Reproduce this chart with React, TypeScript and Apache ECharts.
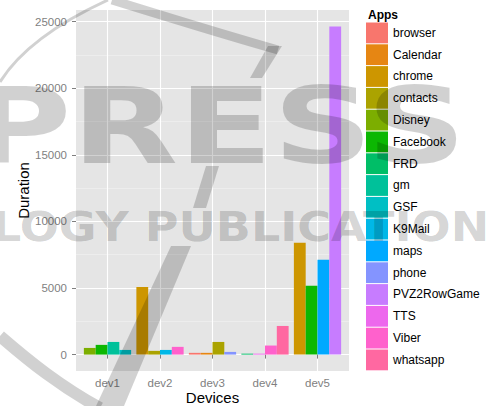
import React, { useEffect, useRef } from 'react';
import * as echarts from 'echarts';

const devices = ['dev1', 'dev2', 'dev3', 'dev4', 'dev5'];
const apps = ['browser', 'Calendar', 'chrome', 'contacts', 'Disney', 'Facebook', 'FRD', 'gm', 'GSF', 'K9Mail', 'maps', 'phone', 'PVZ2RowGame', 'TTS', 'Viber', 'whatsapp'];
const appColors = ['#F8766D', '#E68613', '#CD9600', '#ABA300', '#7CAE00', '#0CB702', '#00BE67', '#00C19A', '#00BFC4', '#00B8E7', '#00A9FF', '#8494FF', '#C77CFF', '#ED68ED', '#FF61CC', '#FF68A1'];

// durations per app, one value per device (null = app not used on that device)
const browser = [null, null, 130, null, null];
const calendar = [null, null, 130, null, null];
const chrome = [null, 5080, null, null, 8400];
const contacts = [null, 280, 950, null, null];
const disney = [500, null, null, null, null];
const facebook = [730, null, null, null, 5180];
const frd = [null, null, null, 70, null];
const gm = [950, null, null, null, null];
const gsf = [350, null, null, null, null];
const k9mail = [null, 350, null, null, null];
const maps = [null, null, null, null, 7130];
const phone = [null, null, 200, null, null];
const pvz2RowGame = [null, null, null, null, 24650];
const tts = [null, null, null, 70, null];
const viber = [null, 580, null, 680, null];
const whatsapp = [null, null, null, 2150, null];

const durations: (number | null)[][] = [browser, calendar, chrome, contacts, disney, facebook, frd, gm, gsf, k9mail, maps, phone, pvz2RowGame, tts, viber, whatsapp];

const yTicks = [0, 5000, 10000, 15000, 20000, 25000];
const yMinorTicks = [2500, 7500, 12500, 17500, 22500];
const xTicks = [1, 2, 3, 4, 5];

const FONT = '"Liberation Sans", Arial, sans-serif';
const WM = 'rgba(0,0,0,0.18)';

export default function App() {
  const ref = useRef<HTMLDivElement>(null);
  useEffect(() => {
    if (!ref.current) return;
    const chart = echarts.init(ref.current, undefined, { renderer: 'svg' });

    let maxV = 0;
    durations.forEach((arr) => arr.forEach((v) => { if (v != null && v > maxV) maxV = v; }));
    const yMin = -0.05 * maxV;
    const yMax = 1.05 * maxV;

    const renderItem = (params: any, api: any) => {
      const x = api.value(0) as number;
      const v = api.value(1) as number;
      const slot = api.value(2) as number;
      const n = api.value(3) as number;
      const base = api.coord([x, 0]);
      const top = api.coord([x, v]);
      const unit = api.size([1, 0])[0];
      const groupW = unit * 0.9;
      const w = groupW / n;
      const left = base[0] - groupW / 2 + slot * w;
      return {
        type: 'rect',
        shape: { x: left, y: top[1], width: w, height: base[1] - top[1] },
        style: { fill: api.visual('color') },
      };
    };

    const series = apps.map((app, i) => {
      const data: number[][] = [];
      durations[i].forEach((v, d) => {
        if (v == null) return;
        const present = apps.map((_, k) => k).filter((k) => durations[k][d] != null);
        data.push([d + 1, v, present.indexOf(i), present.length]);
      });
      return {
        type: 'custom',
        name: app,
        itemStyle: { color: appColors[i] },
        data,
        renderItem,
        encode: { x: 0, y: 1 },
        z: 2,
      };
    });

    const option: any = {
      animation: false,
      backgroundColor: '#ffffff',
      textStyle: { fontFamily: FONT },
      title: {
        text: 'Apps',
        left: 363,
        top: 4,
        textStyle: { fontSize: 12, fontWeight: 'bold', color: '#000', fontFamily: FONT },
      },
      legend: {
        data: apps,
        orient: 'vertical',
        left: 366,
        top: 22.5,
        itemWidth: 22,
        itemHeight: 20.8,
        itemGap: 1,
        icon: 'rect',
        padding: 0,
        textStyle: { fontSize: 12, color: '#000', fontFamily: FONT },
      },
      grid: {
        left: 76,
        right: 137,
        top: 10,
        bottom: 35,
        outerBoundsMode: 'none',
        containLabel: false,
        show: true,
        backgroundColor: '#E5E5E5',
        borderWidth: 0,
      },
      xAxis: {
        type: 'value',
        min: 0.4,
        max: 5.6,
        name: 'Devices',
        nameLocation: 'middle',
        nameGap: 19,
        nameMoveOverlap: false,
        nameTextStyle: { fontSize: 15, color: '#000', fontFamily: FONT },
        axisLine: { show: false },
        axisTick: { show: true, customValues: xTicks, length: 4, lineStyle: { color: '#7F7F7F' } },
        axisLabel: {
          customValues: xTicks,
          formatter: (v: number) => devices[Math.round(v) - 1] ?? '',
          color: '#7F7F7F',
          fontSize: 11.5,
          margin: 6,
          fontFamily: FONT,
        },
        splitLine: { show: true, lineStyle: { color: '#FFFFFF', width: 1.1 } },
      },
      yAxis: [
        {
          type: 'value',
          min: yMin,
          max: yMax,
          name: 'Duration',
          nameLocation: 'middle',
          nameGap: 45,
          nameMoveOverlap: false,
          nameRotate: 90,
          nameTextStyle: { fontSize: 15, color: '#000', fontFamily: FONT },
          axisLine: { show: false },
          axisTick: { show: true, customValues: yTicks, length: 4, lineStyle: { color: '#7F7F7F' } },
          axisLabel: {
            customValues: yTicks,
            formatter: (v: number) => String(Math.round(v)),
            color: '#7F7F7F',
            fontSize: 11.5,
            margin: 9,
            fontFamily: FONT,
          },
          splitLine: { show: true, lineStyle: { color: '#FFFFFF', width: 1.1 } },
        },
        {
          type: 'value',
          min: yMin,
          max: yMax,
          position: 'left',
          axisLine: { show: false },
          axisTick: { show: false, customValues: yMinorTicks },
          axisLabel: { show: false, customValues: yMinorTicks },
          splitLine: { show: true, lineStyle: { color: '#F2F2F2', width: 0.6 } },
        },
      ],
      series,
      graphic: [
        { type: 'text', x: -30, y: 126.5, scaleX: 1.32, silent: true, z: 100,
          style: { text: 'PRESS', fontSize: 105, fontWeight: 'bold', fontFamily: '"DejaVu Sans"', fill: WM, textVerticalAlign: 'middle' } },
        { type: 'text', x: -8, y: 227.5, scaleX: 1.15, silent: true, z: 100,
          style: { text: 'LOGY PUBLICATIONS', fontSize: 40, fontWeight: 'bold', fontFamily: '"DejaVu Sans"', fill: WM, textVerticalAlign: 'middle' } },
        { type: 'bezierCurve', silent: true, z: 100,
          shape: { x1: 108, y1: 0, cpx1: 60, cpy1: 22, cpx2: 20, cpy2: 50, x2: 0, y2: 82 },
          style: { stroke: WM, lineWidth: 3, fill: 'none' } },
        { type: 'bezierCurve', silent: true, z: 100,
          shape: { x1: 112, y1: 0, cpx1: 170, cpy1: 18, cpx2: 225, cpy2: 35, x2: 278, y2: 50 },
          style: { stroke: WM, lineWidth: 9, fill: 'none' } },
        { type: 'polygon', silent: true, z: 100,
          shape: { points: [[268, 46], [282, 46], [262, 78], [250, 78]] }, style: { fill: WM } },
        { type: 'polygon', silent: true, z: 100,
          shape: { points: [[206, 166], [219, 166], [206, 208], [193, 208]] }, style: { fill: WM } },
        { type: 'polygon', silent: true, z: 100,
          shape: { points: [[171, 246], [191, 246], [124, 406], [96, 406]] }, style: { fill: WM } },
        { type: 'bezierCurve', silent: true, z: 100,
          shape: { x1: 0, y1: 336, cpx1: 30, cpy1: 362, cpx2: 60, cpy2: 386, x2: 100, y2: 408 },
          style: { stroke: WM, lineWidth: 12, fill: 'none' } },
      ],
    };
    chart.setOption(option);
    return () => chart.dispose();
  }, []);
  return <div ref={ref} style={{ position: 'fixed', left: 0, top: 0, width: 486, height: 406, background: '#fff' }} />;
}
